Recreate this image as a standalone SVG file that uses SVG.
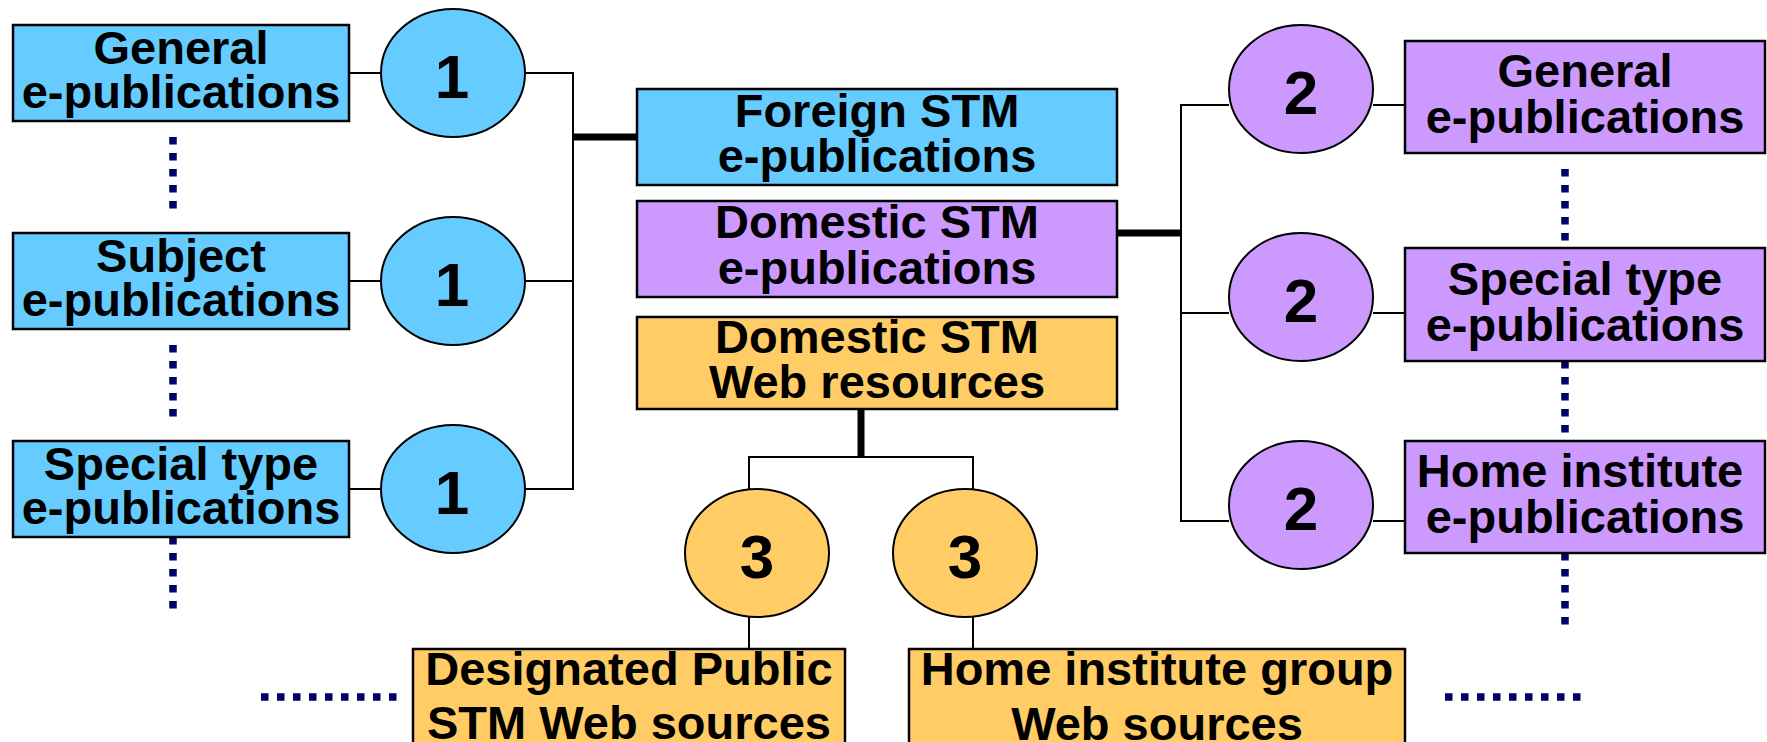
<svg xmlns="http://www.w3.org/2000/svg" width="1767" height="742" viewBox="0 0 1767 742">
<style>
.box{stroke:#000;stroke-width:2.5}
.circ{stroke:#000;stroke-width:2}
.blue{fill:#66CCFF}
.purple{fill:#CC99FF}
.orange{fill:#FFCC66}
.t{font-family:"Liberation Sans",Arial,Helvetica,sans-serif;font-weight:bold;font-size:47px;fill:#000;text-anchor:middle}
.n{font-family:"Liberation Sans",Arial,Helvetica,sans-serif;font-weight:bold;font-size:62px;fill:#000;text-anchor:middle}
.thin{stroke:#000;stroke-width:2;fill:none}
.thick{stroke:#000;stroke-width:7;fill:none}
.dots{stroke:#000066;stroke-width:7.5;stroke-dasharray:7.5 8.5;fill:none}
</style>
<rect width="1767" height="742" fill="#fff"/>
<g id="connectors">
  <path class="thin" d="M349 73H381M525 73H573V489H525M349 281H381M525 281H573M349 489H381"/>
  <path class="thick" d="M573 137H637"/>
  <path class="thick" d="M1117 233H1181"/>
  <path class="thin" d="M1229 105H1181V521H1229M1181 313H1229M1373 105H1405M1373 313H1405M1373 521H1405"/>
  <path class="thick" d="M861 409V457"/>
  <path class="thin" d="M749 649V457H973V649"/>
  <path class="dots" d="M173 137V210M173 345V418M173 537V610"/>
  <path class="dots" d="M1565 169V242M1565 361V434M1565 553V626"/>
  <path class="dots" d="M261 697H397M1445 697H1581"/>
</g>
<g id="left-general"><rect class="box blue" x="13" y="25" width="336" height="96"/><text class="t" x="181" y="64">General</text><text class="t" x="181" y="108">e-publications</text></g>
<g id="left-subject"><rect class="box blue" x="13" y="233" width="336" height="96"/><text class="t" x="181" y="272">Subject</text><text class="t" x="181" y="316">e-publications</text></g>
<g id="left-special"><rect class="box blue" x="13" y="441" width="336" height="96"/><text class="t" x="181" y="480">Special type</text><text class="t" x="181" y="524">e-publications</text></g>
<g id="c1a"><ellipse class="circ blue" cx="453" cy="73" rx="72" ry="64"/><text class="n" x="452" y="98">1</text></g>
<g id="c1b"><ellipse class="circ blue" cx="453" cy="281" rx="72" ry="64"/><text class="n" x="452" y="306">1</text></g>
<g id="c1c"><ellipse class="circ blue" cx="453" cy="489" rx="72" ry="64"/><text class="n" x="452" y="514">1</text></g>
<g id="foreign"><rect class="box blue" x="637" y="89" width="480" height="96"/><text class="t" x="877" y="127">Foreign STM</text><text class="t" x="877" y="172">e-publications</text></g>
<g id="domestic-epub"><rect class="box purple" x="637" y="201" width="480" height="96"/><text class="t" x="877" y="238">Domestic STM</text><text class="t" x="877" y="284">e-publications</text></g>
<g id="domestic-web"><rect class="box orange" x="637" y="317" width="480" height="92"/><text class="t" x="877" y="353">Domestic STM</text><text class="t" x="877" y="398">Web resources</text></g>
<g id="c2a"><ellipse class="circ purple" cx="1301" cy="89" rx="72" ry="64"/><text class="n" x="1301" y="114">2</text></g>
<g id="c2b"><ellipse class="circ purple" cx="1301" cy="297" rx="72" ry="64"/><text class="n" x="1301" y="322">2</text></g>
<g id="c2c"><ellipse class="circ purple" cx="1301" cy="505" rx="72" ry="64"/><text class="n" x="1301" y="530">2</text></g>
<g id="right-general"><rect class="box purple" x="1405" y="41" width="360" height="112"/><text class="t" x="1585" y="87">General</text><text class="t" x="1585" y="133">e-publications</text></g>
<g id="right-special"><rect class="box purple" x="1405" y="248" width="360" height="113"/><text class="t" x="1585" y="295">Special type</text><text class="t" x="1585" y="341">e-publications</text></g>
<g id="right-home"><rect class="box purple" x="1405" y="441" width="360" height="112"/><text class="t" x="1580" y="487">Home institute</text><text class="t" x="1585" y="533">e-publications</text></g>
<g id="c3a"><ellipse class="circ orange" cx="757" cy="553" rx="72" ry="64"/><text class="n" x="757" y="578">3</text></g>
<g id="c3b"><ellipse class="circ orange" cx="965" cy="553" rx="72" ry="64"/><text class="n" x="965" y="578">3</text></g>
<g id="designated"><rect class="box orange" x="413" y="649" width="432" height="112"/><text class="t" x="629" y="685">Designated Public</text><text class="t" x="629" y="739">STM Web sources</text></g>
<g id="home-group"><rect class="box orange" x="909" y="649" width="496" height="112"/><text class="t" x="1157" y="685">Home institute group</text><text class="t" x="1157" y="740">Web sources</text></g>
</svg>
